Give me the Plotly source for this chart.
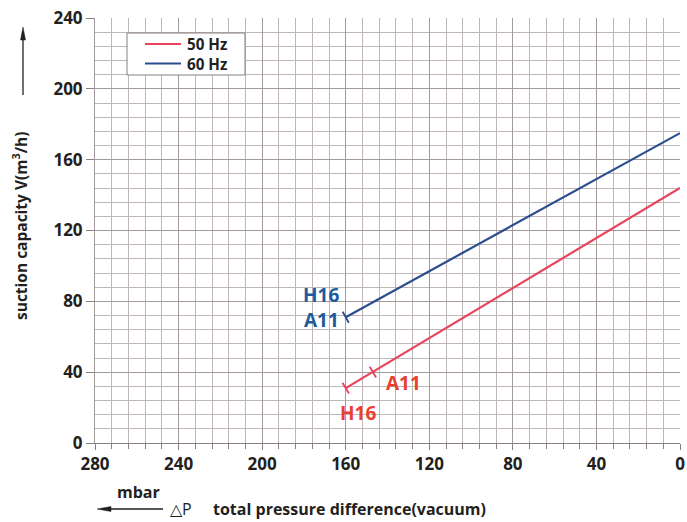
import plotly.graph_objects as go

# Performance lines: pressure difference (mbar) vs. suction capacity (m3/h)
pressure_50 = [160, 0]
capacity_50 = [31, 144]
pressure_60 = [160, 0]
capacity_60 = [71, 175]

# End points of the variants on each curve
variants_50 = ["H16", "A11"]
variant_p_50 = [160, 147]
variant_c_50 = [31, 40]
variants_60 = ["H16", "A11"]
variant_p_60 = [160, 160]
variant_c_60 = [71, 71]

x_ticks = [280, 240, 200, 160, 120, 80, 40, 0]
y_ticks = [0, 40, 80, 120, 160, 200, 240]
series_names = ["50 Hz", "60 Hz"]

RED = "#e8435a"
BLUE = "#2b4d8e"
RED_TXT = "#e8412f"
BLUE_TXT = "#1f5a9e"
DARK = "#231f20"
FONT = "Open Sans"

W, H = 687, 522
ML, MR, MT, MB = 95, 7, 18, 79
PW, PH = W - ML - MR, H - MT - MB


def px(x):
    """page pixel x -> paper coordinate"""
    return (x - ML) / PW


def py(y):
    """page pixel y (from top) -> paper coordinate"""
    return (H - MB - y) / PH


fig = go.Figure()
fig.add_trace(go.Scatter(x=pressure_50, y=capacity_50, mode="lines", name=series_names[0],
                         showlegend=False, line=dict(color=RED, width=2.2)))
fig.add_trace(go.Scatter(x=pressure_60, y=capacity_60, mode="lines", name=series_names[1],
                         showlegend=False, line=dict(color=BLUE, width=2.2)))

# short perpendicular end marks
fig.add_trace(go.Scatter(x=variant_p_50, y=variant_c_50, mode="markers", showlegend=False,
                         marker=dict(symbol="line-ns", size=9, angle=-31,
                                     line=dict(color=RED, width=1.8))))
fig.add_trace(go.Scatter(x=variant_p_60[:1], y=variant_c_60[:1], mode="markers", showlegend=False,
                         marker=dict(symbol="line-ns", size=9, angle=-29,
                                     line=dict(color=BLUE, width=1.8))))

lbl = dict(family=FONT, size=19, weight=700)
fig.add_annotation(x=variant_p_60[0], y=variant_c_60[0], text=variants_60[0], showarrow=False,
                   xanchor="right", yanchor="middle", xshift=-5, yshift=22,
                   font=dict(color=BLUE_TXT, **lbl))
fig.add_annotation(x=variant_p_60[1], y=variant_c_60[1], text=variants_60[1], showarrow=False,
                   xanchor="right", yanchor="middle", xshift=-5, yshift=-3,
                   font=dict(color=BLUE_TXT, **lbl))
fig.add_annotation(x=variant_p_50[1], y=variant_c_50[1], text=variants_50[1], showarrow=False,
                   xanchor="left", yanchor="middle", xshift=11, yshift=-11,
                   font=dict(color=RED_TXT, **lbl))
fig.add_annotation(x=variant_p_50[0], y=variant_c_50[0], text=variants_50[0], showarrow=False,
                   xanchor="left", yanchor="middle", xshift=-8, yshift=-25,
                   font=dict(color=RED_TXT, **lbl))

# legend box: sample lines plus a two-line label block
fig.add_shape(type="rect", xref="paper", yref="paper", x0=px(127), x1=px(245), y0=py(75), y1=py(33),
              line=dict(color="#8a8080", width=1), fillcolor="white", layer="above")
for i, col in enumerate([RED, BLUE]):
    yy = 44 + 19.5 * i
    fig.add_shape(type="line", xref="paper", yref="paper", x0=px(145), x1=px(181),
                  y0=py(yy), y1=py(yy), line=dict(color=col, width=2.2), layer="above")
fig.add_annotation(xref="paper", yref="paper", x=px(185), y=py(54), text="<br>".join(series_names),
                   xanchor="left", yanchor="middle", align="left", showarrow=False,
                   font=dict(family=FONT, size=15.2, weight=700, color=DARK))

# axis titles with direction arrows
fig.add_annotation(xref="paper", yref="paper", x=px(20), y=py(226), xanchor="center", yanchor="middle",
                   text="suction capacity V(m<sup>3</sup>/h)",
                   textangle=-90, showarrow=False, font=dict(family=FONT, size=15.5, weight=700, color=DARK))
fig.add_shape(type="line", xref="paper", yref="paper", x0=px(23), x1=px(23), y0=py(95), y1=py(36),
              line=dict(color=DARK, width=1.3))
fig.add_shape(type="path", xref="paper", yref="paper", fillcolor=DARK, line=dict(color=DARK, width=0.5),
              path=f"M {px(23)} {py(27)} L {px(20.5)} {py(40)} L {px(25.5)} {py(40)} Z")

fig.add_annotation(xref="paper", yref="paper", x=px(138), y=py(492), xanchor="center", yanchor="middle",
                   text="mbar", showarrow=False,
                   font=dict(family=FONT, size=16, weight=700, color=DARK))
fig.add_shape(type="line", xref="paper", yref="paper", x0=px(106), x1=px(163), y0=py(509), y1=py(509),
              line=dict(color=DARK, width=1.3))
fig.add_shape(type="path", xref="paper", yref="paper", fillcolor=DARK, line=dict(color=DARK, width=0.5),
              path=f"M {px(97)} {py(509)} L {px(111)} {py(506.5)} L {px(111)} {py(511.5)} Z")
fig.add_annotation(xref="paper", yref="paper", x=px(168), y=py(509), xanchor="left", yanchor="middle",
                   text="\u25b3P", showarrow=False,
                   font=dict(family=FONT, size=16, color=DARK))
fig.add_annotation(xref="paper", yref="paper", x=px(211), y=py(509), xanchor="left", yanchor="middle",
                   text="total pressure difference(vacuum)", showarrow=False,
                   font=dict(family=FONT, size=16, weight=700, color=DARK))

tickfont = dict(family=FONT, size=17, weight=700, color=DARK)
fig.update_xaxes(range=[280, 0], tickvals=x_ticks, tickfont=tickfont, automargin=False,
                 showgrid=True, gridcolor="#a39a9a", gridwidth=1,
                 ticks="outside", ticklen=6, tickcolor="#8a8080",
                 showline=True, linecolor="#8a8080", linewidth=1, mirror=False,
                 zeroline=False,
                 minor=dict(dtick=8, tick0=0, showgrid=True, gridcolor="#bfb7b7", gridwidth=1,
                            ticks="outside", ticklen=5, tickcolor="#8a8080"))
fig.update_yaxes(range=[0, 240], tickvals=y_ticks, tickfont=tickfont, automargin=False,
                 showgrid=True, gridcolor="#a39a9a", gridwidth=1,
                 ticks="outside", ticklen=8, tickcolor="#8a8080",
                 showline=True, linecolor="#a39a9a", linewidth=1,
                 zeroline=False,
                 minor=dict(dtick=8, tick0=0, showgrid=True, gridcolor="#bfb7b7", gridwidth=1))

fig.update_layout(
    width=W, height=H,
    margin=dict(l=ML, r=MR, t=MT, b=MB),
    paper_bgcolor="white", plot_bgcolor="white",
    showlegend=False,
)

fig.write_html("out.html")
